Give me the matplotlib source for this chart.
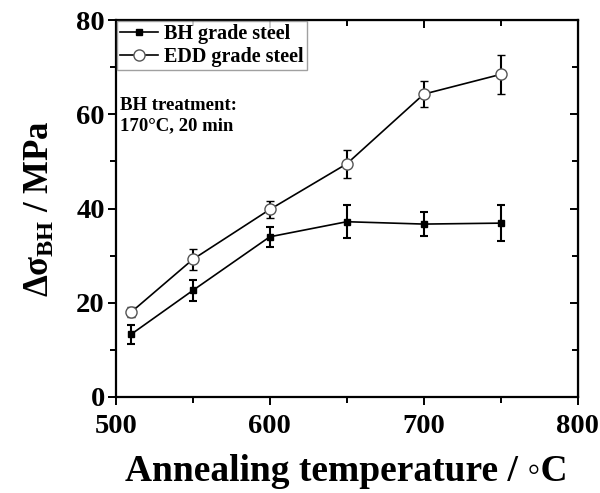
import matplotlib
matplotlib.use('Agg')
import matplotlib.pyplot as plt
from matplotlib.lines import Line2D
from matplotlib.ticker import MultipleLocator

# Bake-hardening increment vs. annealing temperature
temp_bh = [510, 550, 600, 650, 700, 750]
dsig_bh = [13.3, 22.6, 34.0, 37.2, 36.7, 36.9]
err_bh = [2.0, 2.3, 2.1, 3.5, 2.6, 3.9]

temp_edd = [510, 550, 600, 650, 700, 750]
dsig_edd = [18.0, 29.2, 39.8, 49.5, 64.3, 68.5]
err_edd = [1.1, 2.3, 1.9, 3.0, 2.7, 4.2]

SERIF = ['Liberation Serif', 'DejaVu Serif']
plt.rcParams['font.family'] = SERIF
plt.rcParams['font.weight'] = 'bold'
plt.rcParams['mathtext.fontset'] = 'custom'
plt.rcParams['mathtext.rm'] = 'Liberation Serif:bold'
plt.rcParams['mathtext.it'] = 'Liberation Serif:bold'
plt.rcParams['mathtext.bf'] = 'Liberation Serif:bold'

fig = plt.figure(figsize=(6, 4.93), dpi=100)
ax = fig.add_axes([0.193, 0.195, 0.77, 0.764])

bh_style = dict(color='black', lw=1.2, marker='s', ms=5, mfc='black', mec='black')
edd_style = dict(color='black', lw=1.2, marker='o', ms=8, mfc='white',
                 mec='#555555', mew=1.0)

ax.errorbar(temp_bh, dsig_bh, yerr=err_bh, elinewidth=1.5, capsize=3,
            capthick=1.5, ecolor='black', **bh_style)
ax.errorbar(temp_edd, dsig_edd, yerr=err_edd, elinewidth=1.5, capsize=3,
            capthick=1.5, ecolor='black', **edd_style)

ax.set_xlim(500, 800)
ax.set_ylim(0, 80)
ax.xaxis.set_major_locator(MultipleLocator(100))
ax.xaxis.set_minor_locator(MultipleLocator(50))
ax.yaxis.set_major_locator(MultipleLocator(20))
ax.yaxis.set_minor_locator(MultipleLocator(10))

for s in ax.spines.values():
    s.set_linewidth(1.6)
ax.tick_params(which='both', direction='out', width=1.4, top=False, right=False)
ax.tick_params(which='major', length=6, labelsize=20.5)
ax.tick_params(axis='x', which='major', pad=6)
ax.tick_params(axis='y', which='major', pad=2)
ax.tick_params(which='minor', length=4)

# inward ticks mirrored on the top and right edges
ax_r = ax.secondary_yaxis('right')
ax_r.yaxis.set_major_locator(MultipleLocator(20))
ax_r.yaxis.set_minor_locator(MultipleLocator(10))
ax_r.tick_params(which='both', direction='in', width=1.4, labelright=False)
ax_r.tick_params(which='major', length=6)
ax_r.tick_params(which='minor', length=4)
ax_t = ax.secondary_xaxis('top')
ax_t.xaxis.set_major_locator(MultipleLocator(100))
ax_t.xaxis.set_minor_locator(MultipleLocator(50))
ax_t.tick_params(which='both', direction='in', width=1.4, labeltop=False)
ax_t.tick_params(which='major', length=6)
ax_t.tick_params(which='minor', length=4)

ax.set_xlabel('Annealing temperature / \u25e6C', fontsize=27, fontweight='bold',
              labelpad=11)
ax.set_ylabel(r'$\Delta\sigma_{\rm BH}$ / MPa', fontsize=25, fontweight='bold',
              labelpad=14)

handles = [Line2D([], [], **bh_style), Line2D([], [], **edd_style)]
labels = ['BH grade steel', 'EDD grade steel']
leg = ax.legend(handles, labels, loc='upper left', fontsize=14.5, frameon=True,
                fancybox=False, edgecolor='#888888', borderaxespad=0.05,
                handlelength=1.9, borderpad=0.15, labelspacing=0.15,
                handletextpad=0.3)
leg.get_frame().set_linewidth(1.0)

ax.text(0.01, 0.795, 'BH treatment:\n170\u00b0C, 20 min', transform=ax.transAxes,
        fontsize=13.5, fontweight='bold', va='top', ha='left', linespacing=1.25)

fig.savefig('out.png', dpi=100)
